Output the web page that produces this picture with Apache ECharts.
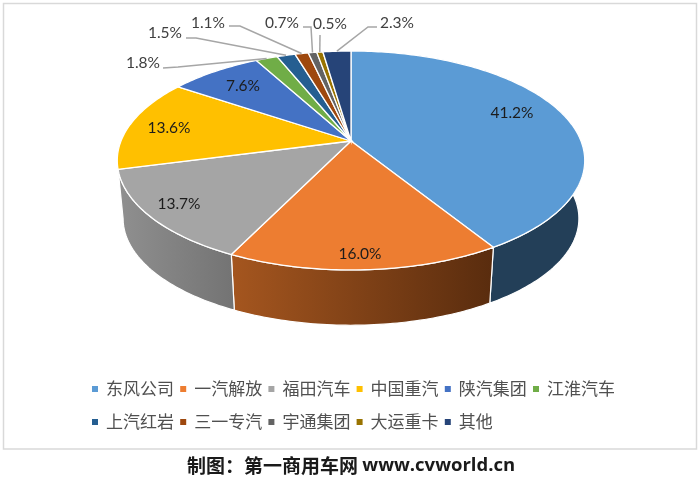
<!DOCTYPE html>
<html><head><meta charset="utf-8">
<style>html,body{margin:0;padding:0;background:#fff}#c{width:700px;height:482px}</style>
<script src="https://cdn.jsdelivr.net/npm/echarts@6/dist/echarts.min.js"></script>
</head><body><div id="c"></div>
<script>
const categories = ['东风公司','一汽解放','福田汽车','中国重汽','陕汽集团','江淮汽车','上汽红岩','三一专汽','宇通集团','大运重卡','其他'];
const values = [41.2,16.0,13.7,13.6,7.6,1.8,1.5,1.1,0.7,0.5,2.3];
const colors = ['#5B9BD5','#ED7D31','#A5A5A5','#FFC000','#4472C4','#70AD47','#255E91','#9E480E','#636363','#997300','#264478'];
const wallLeft = ['#233f58','#a5561f','#909090'];
const wallRight = ['#233f58','#592c0e','#737373'];
const labelPos = [[512,113],[360,254],[179,204],[169,128],[243,86],[143,63],[165,33],[208,23],[282,23],[330,24],[397,23]];
const leaderStart = [null,null,null,null,null,[[163,68],[178,67]],[[186,38],[196,38]],[[229,26],[240,26]],[[303,27],[311,27]],[[320,35]],[[377,27],[368,27]]];

const CX=351, CY=141, A=230, B=106, BETA=0.178, WALL_CY=199.5, WALL_S=0.975, LEFT_EXTREME_PCT=72.1;
function proj(pct, cy, s){
  const t = pct/100*2*Math.PI, u=Math.sin(t), v=-Math.cos(t), d=1-BETA*v;
  return [CX + s*A*u/d, cy + s*B*v/d];
}
function arc(p0,p1,cy,s){
  const pts=[], n=Math.max(2,Math.ceil((p1-p0)*3.6));
  for(let i=0;i<=n;i++) pts.push(proj(p0+(p1-p0)*i/n,cy,s));
  return pts;
}
let acc=0;
const starts = values.map(v=>{const s=acc;acc+=v;return s;});

function makeItem(idx){
  return function(params,api){
    const val=api.value(0), st=api.value(1), end=st+val;
    const top=arc(st,end,CY,1);
    const children=[];
    if(idx<wallLeft.length){
      const wallEnd = idx===wallLeft.length-1 ? LEFT_EXTREME_PCT : end;
      const wt=arc(st,wallEnd,CY,1), wb=arc(st,wallEnd,WALL_CY,WALL_S);
      children.push({type:'polygon',z2:1,shape:{points:wt.concat(wb.reverse())},
       style:{fill:new echarts.graphic.LinearGradient(0,0,1,0,[{offset:0,color:wallLeft[idx]},{offset:1,color:wallRight[idx]}]),stroke:'#fff',lineWidth:1.2}});
    }
    children.push({type:'polygon',z2:2,shape:{points:[[CX,CY]].concat(top)},
       style:{fill:colors[idx],stroke:'#fff',lineWidth:1.3}});
    if(leaderStart[idx]){
      children.push({type:'polyline',z2:3,shape:{points:leaderStart[idx].concat([proj(st+val/2,CY,1)])},
        style:{fill:null,stroke:'#a6a6a6',lineWidth:1.5}});
    }
    children.push({type:'text',z2:4,style:{text:val.toFixed(1)+'%',x:labelPos[idx][0],y:labelPos[idx][1],
      align:'center',verticalAlign:'middle',fontFamily:'Lato',fontSize:15.5,fill:idx<5?'#1c1c1c':'#404040'}});
    return {type:'group',children};
  };
}
const legendFont={fontFamily:'"Noto Sans CJK SC"',fontSize:17,color:'#505050',padding:[0,0,0,3]};
const legendBase={orient:'horizontal',icon:'rect',itemWidth:6,itemHeight:6,itemGap:6.2,textStyle:legendFont,left:92,padding:0,selectedMode:false};
const option={
  backgroundColor:'#fff',animation:false,
  title:{text:'{a|制图：第一商用车网 }{b|www.cvworld.cn}',left:187,top:456,padding:0,
    textStyle:{rich:{a:{fontFamily:'"Noto Sans CJK SC"',fontWeight:'bold',fontSize:19,color:'#1a1a1a'},
                     b:{fontFamily:'"Open Sans"',fontWeight:'bold',fontSize:18.5,color:'#1a1a1a'}}}},
  legend:[
    Object.assign({},legendBase,{top:380.5,data:categories.slice(0,6)}),
    Object.assign({},legendBase,{top:413.5,data:categories.slice(6)})
  ],
  graphic:[{type:'rect',silent:true,z:-1,shape:{x:3.5,y:3.5,width:693,height:445.5},style:{fill:'#fff',stroke:'#d9d9d9',lineWidth:1.5}}],
  series:categories.map((name,i)=>({
    type:'custom',name,coordinateSystem:'none',silent:true,
    itemStyle:{color:colors[i]},
    data:[[values[i],starts[i]]],
    renderItem:makeItem(i)
  }))
};
echarts.init(document.getElementById('c'),null,{renderer:'canvas'}).setOption(option);
</script></body></html>
